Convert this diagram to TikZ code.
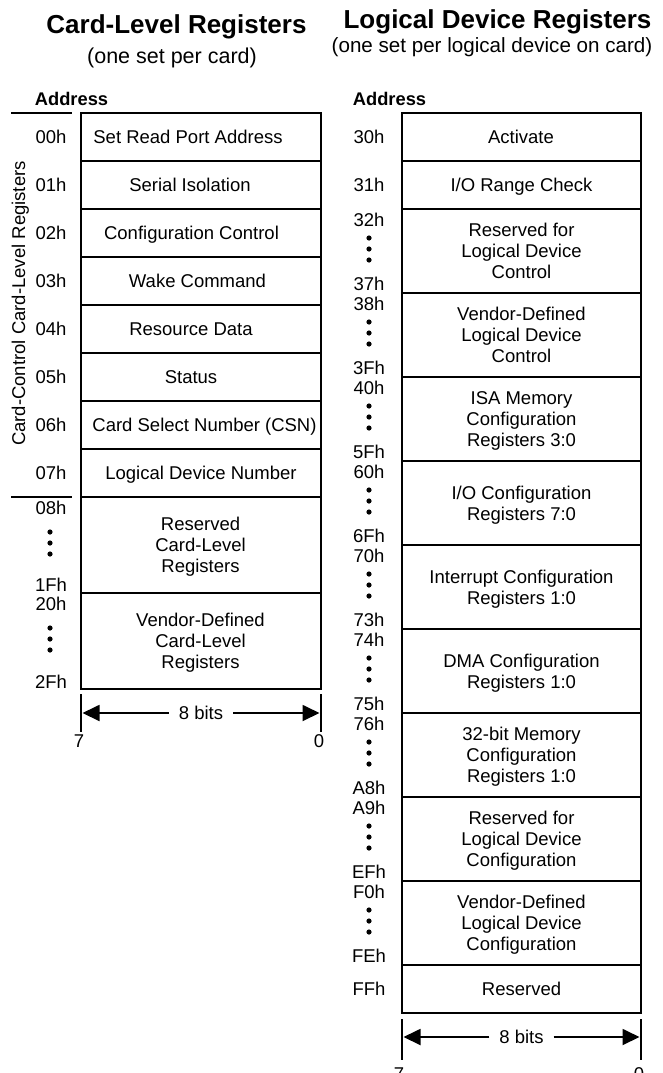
\documentclass[tikz,border=0pt]{standalone}
\usepackage{fontspec}
\setmainfont{Liberation Sans}
\usetikzlibrary{arrows.meta}

\tikzset{every picture/.style={line width=1.8pt}}
\tikzset{
	cell/.style={align=center, text depth=0pt, inner sep=0pt, font=\fontsize{18.5}{21}\selectfont},
	addr/.style={text depth=0pt, inner sep=0pt, font=\fontsize{18.5}{21}\selectfont},
	heading/.style={anchor=base, inner sep=0pt, font=\fontsize{26}{30}\selectfont\bfseries},
	subheading/.style={anchor=base, inner sep=0pt, font=\fontsize{21.5}{25}\selectfont},
	addrhead/.style={anchor=base, inner sep=0pt, font=\fontsize{18.3}{21}\selectfont\bfseries},
	bitlabel/.style={fill=white, inner xsep=9pt, inner ysep=1pt, font=\fontsize{18.5}{21}\selectfont},
	bitarrow/.style={-{Triangle[length=17pt,width=16pt]}}
}

\begin{document}
\begin{tikzpicture}[x=1pt,y=1pt,yscale=-1,xscale=1]
	\useasboundingbox (0,0) rectangle (662,1073);

	% Headings
	\node[heading] (lhead) at (176.5,34) {Card-Level Registers};
	\node[subheading] (lsub) at (172,63.5) {(one set per card)};
	\node[heading] (rhead) at (497.5,29) {Logical Device Registers};
	\node[subheading, font=\fontsize{20.6}{24}\selectfont] (rsub) at (492,52.5) {(one set per logical device on card)};
	\node[addrhead] (laddr) at (71.5,105) {Address};
	\node[addrhead] (raddr) at (389.5,105) {Address};

	%Straight Lines (address column)
	\draw (11,113) -- (72,113) ;
	\draw (11,497) -- (72,497) ;
	% Text Node (side label)
	\node[addr, rotate=90] (side) at (18.5,303.5) {Card-Control Card-Level Registers};

	%Shape: Rectangle (card-level registers)
	\draw (81,113) rectangle (321,689) ;
	\draw (81,161) -- (321,161) ;
	\draw (81,209) -- (321,209) ;
	\draw (81,257) -- (321,257) ;
	\draw (81,305) -- (321,305) ;
	\draw (81,353) -- (321,353) ;
	\draw (81,401) -- (321,401) ;
	\draw (81,449) -- (321,449) ;
	\draw (81,497) -- (321,497) ;
	\draw (81,593) -- (321,593) ;

	\node[cell] (c00) at (188,137) {Set Read Port Address};
	\node[cell] (c01) at (190,185) {Serial Isolation};
	\node[cell] (c02) at (191.5,233) {Configuration Control};
	\node[cell] (c03) at (197.5,281) {Wake Command};
	\node[cell] (c04) at (191,329) {Resource Data};
	\node[cell] (c05) at (191,377) {Status};
	\node[cell] (c06) at (204.5,425) {Card Select Number (CSN)};
	\node[cell] (c07) at (201,473) {Logical Device Number};
	\node[cell] (c08) at (200.5,545) {Reserved\\Card-Level\\Registers};
	\node[cell] (c20) at (200.5,641) {Vendor-Defined\\Card-Level\\Registers};

	\node[addr] (a00) at (51,137) {00h};
	\node[addr] (a01) at (51,185) {01h};
	\node[addr] (a02) at (51,233) {02h};
	\node[addr] (a03) at (51,281) {03h};
	\node[addr] (a04) at (51,329) {04h};
	\node[addr] (a05) at (51,377) {05h};
	\node[addr] (a06) at (51,425) {06h};
	\node[addr] (a07) at (51,473) {07h};
	\node[addr] (a08) at (51,508) {08h};
	\fill (50,532) circle (2.6) (50,543) circle (2.6) (50,554) circle (2.6);
	\node[addr] (a1F) at (51,585) {1Fh};
	\node[addr] (a20) at (51,604) {20h};
	\fill (50,628) circle (2.6) (50,639) circle (2.6) (50,650) circle (2.6);
	\node[addr] (a2F) at (51,682) {2Fh};

	% 8 bits (left)
	\draw (81,694) -- (81,732) ;
	\draw (321,694) -- (321,732) ;
	\coordinate (lmsb) at (82.5,713);
	\coordinate (llsb) at (319.5,713);
	\node[bitlabel] (lbits) at (201,713) {8 bits};
	\draw[bitarrow] (lbits) -- (lmsb);
	\draw[bitarrow] (lbits) -- (llsb);
	\node[addr] (lseven) at (79,741) {7};
	\node[addr] (lzero) at (319,741) {0};

	%Shape: Rectangle (logical device registers)
	\draw (402,113) rectangle (641,1013) ;
	\draw (402,161) -- (641,161) ;
	\draw (402,209) -- (641,209) ;
	\draw (402,293) -- (641,293) ;
	\draw (402,377) -- (641,377) ;
	\draw (402,461) -- (641,461) ;
	\draw (402,545) -- (641,545) ;
	\draw (402,629) -- (641,629) ;
	\draw (402,713) -- (641,713) ;
	\draw (402,797) -- (641,797) ;
	\draw (402,881) -- (641,881) ;
	\draw (402,965) -- (641,965) ;

	\node[cell] (c30) at (521,137) {Activate};
	\node[cell] (c31) at (521.5,185) {I/O Range Check};
	\node[cell] (c32) at (521.5,251) {Reserved for\\Logical Device\\Control};
	\node[cell] (c38) at (521.5,335) {Vendor-Defined\\Logical Device\\Control};
	\node[cell] (c40) at (521.5,419) {ISA Memory\\Configuration\\Registers 3:0};
	\node[cell] (c60) at (521.5,503) {I/O Configuration\\Registers 7:0};
	\node[cell] (c70) at (521.5,587) {Interrupt Configuration\\Registers 1:0};
	\node[cell] (c74) at (521.5,671) {DMA Configuration\\Registers 1:0};
	\node[cell] (c76) at (521.5,755) {32-bit Memory\\Configuration\\Registers 1:0};
	\node[cell] (cA9) at (521.5,839) {Reserved for\\Logical Device\\Configuration};
	\node[cell] (cF0) at (521.5,923) {Vendor-Defined\\Logical Device\\Configuration};
	\node[cell] (cFF) at (521.5,989) {Reserved};

	\node[addr] (a30) at (369,137) {30h};
	\node[addr] (a31) at (369,185) {31h};
	\node[addr] (a32) at (369,220) {32h};
	\fill (369,238) circle (2.6) (369,249) circle (2.6) (369,260) circle (2.6);
	\node[addr] (a37) at (369,284) {37h};
	\node[addr] (a38) at (369,304) {38h};
	\fill (369,322) circle (2.6) (369,333) circle (2.6) (369,344) circle (2.6);
	\node[addr] (a3F) at (369,368) {3Fh};
	\node[addr] (a40) at (369,388) {40h};
	\fill (369,406) circle (2.6) (369,417) circle (2.6) (369,428) circle (2.6);
	\node[addr] (a5F) at (369,452) {5Fh};
	\node[addr] (a60) at (369,472) {60h};
	\fill (369,490) circle (2.6) (369,501) circle (2.6) (369,512) circle (2.6);
	\node[addr] (a6F) at (369,536) {6Fh};
	\node[addr] (a70) at (369,556) {70h};
	\fill (369,574) circle (2.6) (369,585) circle (2.6) (369,596) circle (2.6);
	\node[addr] (a73) at (369,620) {73h};
	\node[addr] (a74) at (369,640) {74h};
	\fill (369,658) circle (2.6) (369,669) circle (2.6) (369,680) circle (2.6);
	\node[addr] (a75) at (369,704) {75h};
	\node[addr] (a76) at (369,724) {76h};
	\fill (369,742) circle (2.6) (369,753) circle (2.6) (369,764) circle (2.6);
	\node[addr] (aA8) at (369,788) {A8h};
	\node[addr] (aA9) at (369,808) {A9h};
	\fill (369,826) circle (2.6) (369,837) circle (2.6) (369,848) circle (2.6);
	\node[addr] (aEF) at (369,872) {EFh};
	\node[addr] (aF0) at (369,892) {F0h};
	\fill (369,910) circle (2.6) (369,921) circle (2.6) (369,932) circle (2.6);
	\node[addr] (aFE) at (369,956) {FEh};
	\node[addr] (aFF) at (369,989) {FFh};

	% 8 bits (right)
	\draw (402,1019) -- (402,1060) ;
	\draw (641,1019) -- (641,1060) ;
	\coordinate (rmsb) at (403.5,1037);
	\coordinate (rlsb) at (639.5,1037);
	\node[bitlabel] (rbits) at (521.5,1037) {8 bits};
	\draw[bitarrow] (rbits) -- (rmsb);
	\draw[bitarrow] (rbits) -- (rlsb);
	\node[addr] (rseven) at (399,1074) {7};
	\node[addr] (rzero) at (639,1074) {0};

\end{tikzpicture}
\end{document}
